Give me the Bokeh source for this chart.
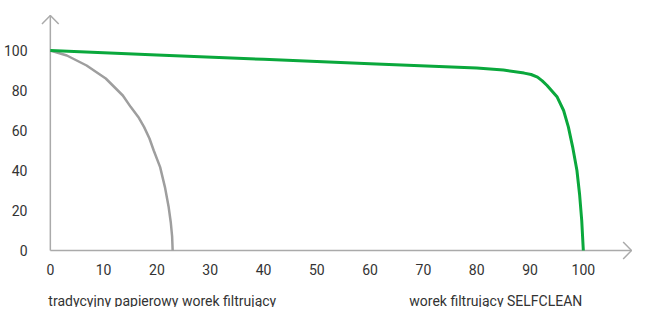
from bokeh.plotting import figure
from bokeh.models import Range1d, FixedTicker, Label
from bokeh.embed import file_html
from bokeh.resources import INLINE

# data
selfclean_x = [0, 20, 40, 60, 80, 85, 88.9, 90.2, 91.4, 92.3, 93.2, 95.1, 96.3, 97.2, 98.0, 98.8, 99.3, 99.7, 100]
selfclean_y = [100, 97.8, 95.6, 93.4, 91.2, 90.2, 88.7, 88.0, 86.7, 84.8, 82.5, 76.7, 70.0, 61.7, 51.7, 40.0, 28.0, 15.0, 0]
paper_x = [0, 3.1, 6.8, 10.4, 13.6, 15.1, 16.5, 17.6, 18.6, 19.4, 20.6, 21.5, 22.2, 22.6, 22.85, 22.95]
paper_y = [100, 97.5, 92.5, 86, 77.5, 71.7, 66.8, 61.7, 56.0, 50, 41.7, 31.7, 21.7, 14, 7, 0]
x_ticks = [0, 10, 20, 30, 40, 50, 60, 70, 80, 90, 100]
y_ticks = [0, 20, 40, 60, 80, 100]
label_paper = "tradycyjny papierowy worek filtrujący"
label_self = "worek filtrujący SELFCLEAN"

# layout constants (pixels per data unit)
PX_X = 5.42
PX_Y = 2.0
X_TIP = (639 - 48) / PX_X
Y_TIP = (250 - 15) / PX_Y
HEAD = 8.5  # arrow head size in px
TEXT_Y = (250 - 300) / PX_Y

FONT = "Roboto"
FS = "14px"
TXT = "#333333"
AXC = "#aaaaaa"

p = figure(width=632, height=307, output_backend="svg", toolbar_location=None,
           x_range=Range1d(-10 / PX_X, (640 - 48) / PX_X),
           y_range=Range1d((250 - 307) / PX_Y, (250 - 4) / PX_Y),
           min_border_left=30, min_border_right=0, min_border_top=4, min_border_bottom=0)
p.outline_line_color = None
p.grid.visible = False
p.background_fill_color = "white"

for ax in (p.xaxis[0], p.yaxis[0]):
    ax.axis_line_color = None
    ax.major_tick_line_color = None
    ax.minor_tick_line_color = None
    ax.major_label_text_font = FONT
    ax.major_label_text_font_size = FS
    ax.major_label_text_color = TXT
p.xaxis.ticker = FixedTicker(ticks=x_ticks)
p.yaxis.ticker = FixedTicker(ticks=y_ticks)
p.xaxis.fixed_location = 0
p.xaxis.major_label_standoff = 7
p.yaxis.major_label_standoff = 7

# axis lines with open arrow heads
hx, hy = HEAD / PX_X, HEAD / PX_Y
p.multi_line(
    xs=[[0, X_TIP], [0, 0],
        [X_TIP - hx, X_TIP, X_TIP - hx], [-hx, 0, hx]],
    ys=[[0, 0], [0, Y_TIP],
        [hy, 0, -hy], [Y_TIP - hy, Y_TIP, Y_TIP - hy]],
    line_color=AXC, line_width=1.5)

p.line(paper_x, paper_y, line_color="#9e9e9e", line_width=2.5, line_join="round")
p.line(selfclean_x, selfclean_y, line_color="#0aa83c", line_width=3, line_join="round")

p.add_layout(Label(x=(46 - 48) / PX_X, y=TEXT_Y, text=label_paper,
                   text_font=FONT, text_font_size=FS, text_color=TXT,
                   text_baseline="alphabetic"))
p.add_layout(Label(x=(413 - 48) / PX_X, y=TEXT_Y, text=label_self,
                   text_font=FONT, text_font_size=FS, text_color=TXT,
                   text_baseline="alphabetic"))

open("out.html", "w").write(file_html(p, INLINE))
